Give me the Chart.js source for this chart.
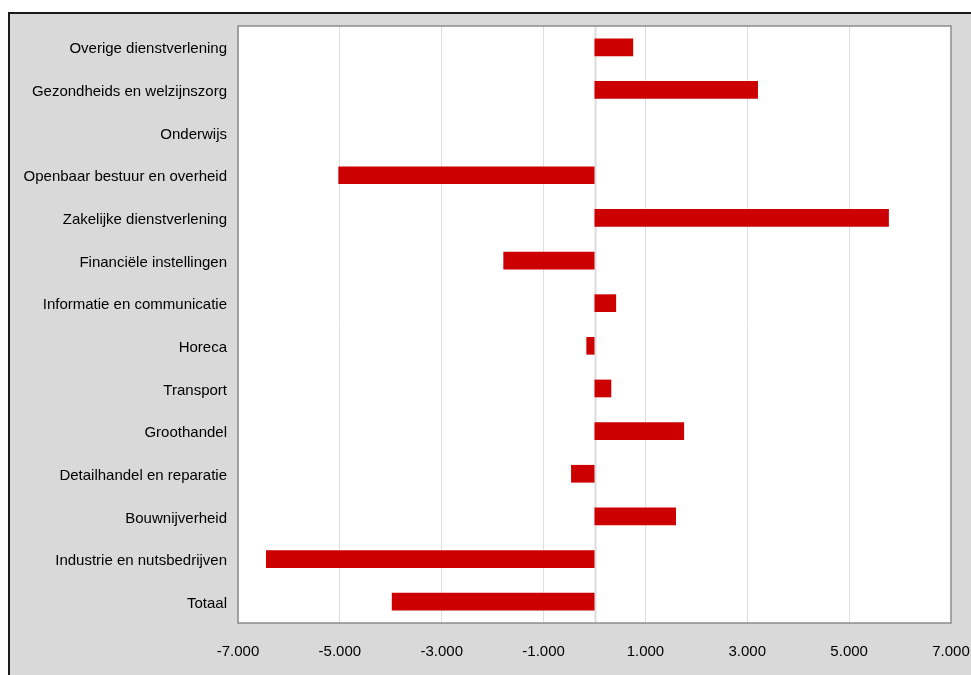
<!DOCTYPE html>
<html>
<head>
<meta charset="utf-8">
<script src="https://cdn.jsdelivr.net/npm/chart.js@4.4.1/dist/chart.umd.min.js"></script>
<style>
  html, body { margin: 0; padding: 0; background: #fff; }
  body { width: 971px; height: 675px; position: relative; overflow: hidden; }
  #frame {
    position: absolute; left: 8px; top: 12px; right: 0; bottom: 0;
    background: #d9d9d9;
    border-top: 2px solid #1a1a1a;
    border-left: 2px solid #1a1a1a;
  }
  #wrap { position: absolute; left: 0; top: 0; width: 971px; height: 675px; }
</style>
</head>
<body>
<div id="frame"></div>
<div id="wrap"><canvas id="sectorChart" width="971" height="675"></canvas></div>
<script>
// data, top to bottom as in the chart
const sectors = [
  'Overige dienstverlening',
  'Gezondheids en welzijnszorg',
  'Onderwijs',
  'Openbaar bestuur en overheid',
  'Zakelijke dienstverlening',
  'Financiële instellingen',
  'Informatie en communicatie',
  'Horeca',
  'Transport',
  'Groothandel',
  'Detailhandel en reparatie',
  'Bouwnijverheid',
  'Industrie en nutsbedrijven',
  'Totaal'
];
const changes = [760, 3210, 0, -5030, 5780, -1790, 425, -160, 330, 1760, -460, 1600, -6450, -3980];
const xMin = -7000;
const xMax = 7000;
const xStep = 2000;

// thousands with a dot, like 1.000
function formatNumber(v) {
  const s = Math.abs(v).toString().replace(/\B(?=(\d{3})+(?!\d))/g, '.');
  return (v < 0 ? '-' : '') + s;
}

// white plot area, zero line and grey border round it
const plotArea = {
  id: 'plotArea',
  beforeDraw(chart) {
    const a = chart.chartArea, ctx = chart.ctx;
    ctx.save();
    ctx.fillStyle = '#ffffff';
    ctx.fillRect(a.left, a.top, a.width, a.height);
    ctx.restore();
  },
  beforeDatasetsDraw(chart) {
    const a = chart.chartArea, ctx = chart.ctx;
    const x0 = Math.round(chart.scales.x.getPixelForValue(0)) + 0.5;
    ctx.save();
    ctx.strokeStyle = '#dcdcdc';
    ctx.lineWidth = 2;
    ctx.beginPath();
    ctx.moveTo(x0, a.top);
    ctx.lineTo(x0, a.bottom);
    ctx.stroke();
    ctx.restore();
  },
  afterDraw(chart) {
    const a = chart.chartArea, ctx = chart.ctx;
    ctx.save();
    ctx.strokeStyle = '#8c8c8c';
    ctx.lineWidth = 1.5;
    ctx.strokeRect(a.left, a.top, a.width, a.height);
    ctx.restore();
  }
};

Chart.defaults.font.family = '"Liberation Sans", Arial, sans-serif';
Chart.defaults.font.size = 15;
Chart.defaults.color = '#000';

const ctxSectors = document.getElementById('sectorChart');

new Chart(ctxSectors, {
  type: 'bar',
  data: {
    labels: sectors,
    datasets: [{
      data: changes,
      backgroundColor: '#cc0000',
      borderWidth: 0,
      categoryPercentage: 1,
      barPercentage: 0.415
    }]
  },
  options: {
    indexAxis: 'y',
    responsive: false,
    animation: false,
    maintainAspectRatio: false,
    layout: { padding: { left: 0, top: 26, right: 20, bottom: 0 } },
    plugins: {
      legend: { display: false },
      tooltip: { enabled: false }
    },
    scales: {
      x: {
        min: xMin,
        max: xMax,
        afterFit(scale) {
          scale.height = 52;
          scale.paddingLeft = 0;
          scale.paddingRight = 0;
        },
        ticks: {
          stepSize: xStep,
          padding: 20,
          maxRotation: 0,
          autoSkip: false,
          callback: (v) => formatNumber(v)
        },
        grid: { color: '#dddddd', lineWidth: 1, drawTicks: false },
        border: { display: false }
      },
      y: {
        afterFit(scale) {
          scale.width = 238;
          scale.paddingTop = 0;
          scale.paddingBottom = 0;
        },
        ticks: { padding: 11, autoSkip: false, labelOffset: 2 },
        grid: { display: false, drawTicks: false },
        border: { display: false }
      }
    }
  },
  plugins: [plotArea]
});
</script>
</body>
</html>
